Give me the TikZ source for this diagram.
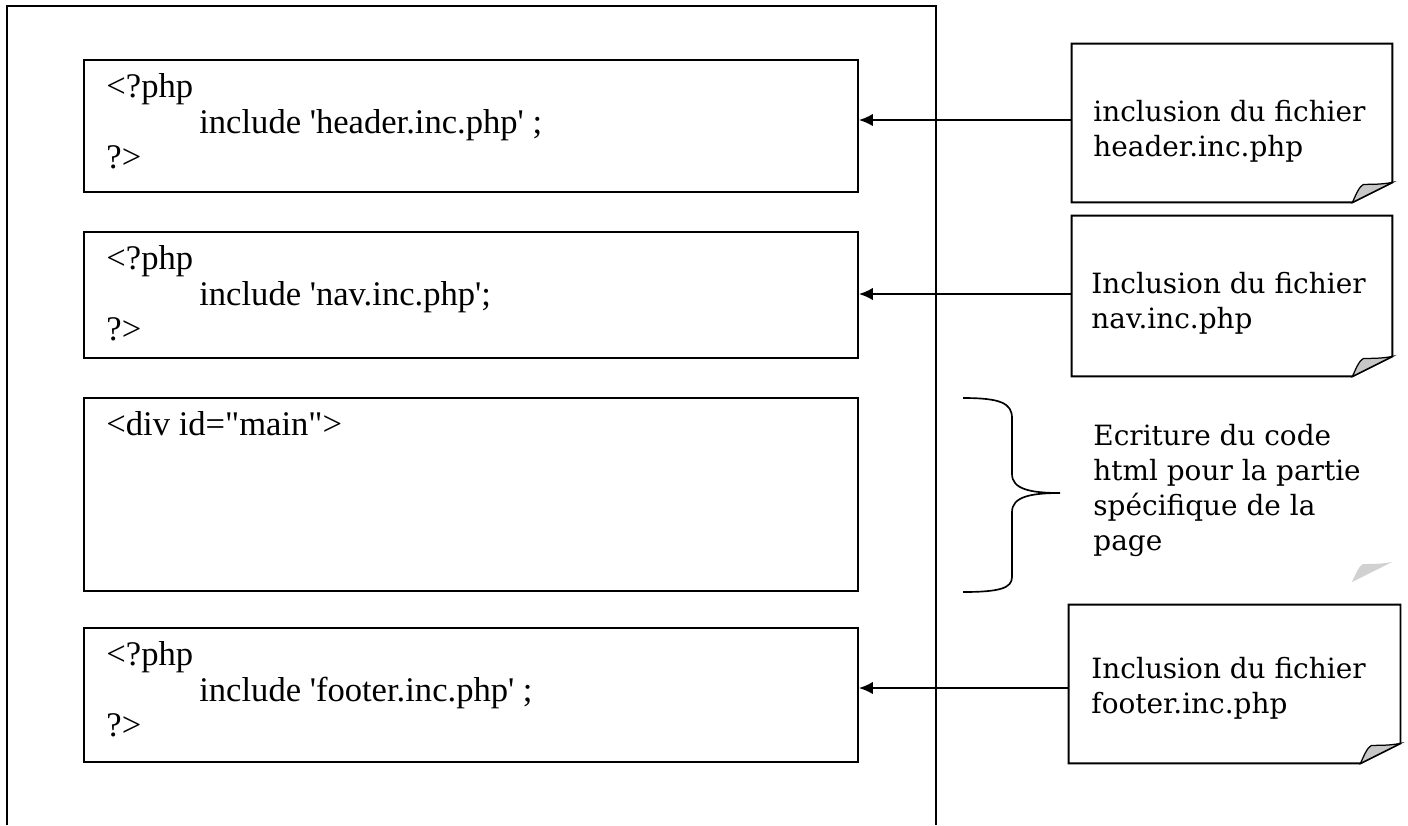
\documentclass[tikz,border=0pt]{standalone}
\usepackage{fontspec}
\setmainfont{Liberation Serif}[Ligatures=TeXOff]
\newfontfamily\notefont{DejaVu Serif}
\usetikzlibrary{arrows.meta,calc}

\tikzset{
  frame/.style={line width=1pt},
  codebox/.style={draw, line width=0.9pt, minimum width=371.5pt, inner sep=0pt},
  codetext/.style={anchor=north west, align=left, inner sep=0pt,
    font=\fontsize{16.6pt}{17pt}\selectfont},
  notebox/.style={minimum width=153.6pt, minimum height=75.8pt, inner sep=0pt},
  notetext/.style={anchor=west, align=left, inner sep=0pt,
    font=\notefont\fontsize{13.4pt}{16.6pt}\selectfont},
  noteline/.style={line width=0.9pt},
  fold/.style={fill=black!22, draw=black, line width=0.6pt},
  link/.style={line width=0.9pt, -{Latex[length=6.7pt,width=6pt]}},
  brace/.style={line width=0.8pt},
}

% folded corner of a note, bottom right corner given by #2
\newcommand\foldcorner[2][fold]{%
  \path[#1] ($#2+(-40,0)$) .. controls ($#2+(-36,-9)$) and ($#2+(-33,-16)$) ..
    ($#2+(-29,-18)$) .. controls ($#2+(-20,-18)$) and ($#2+(-10,-18)$) ..
    ($#2+(0,-20)$) -- cycle;}

% outline of a note with a folded bottom right corner
\newcommand\noteoutline[1]{%
  \draw[noteline] (#1.north west) -- (#1.north east)
    -- ($(#1.south east)+(0,-20)$) -- ($(#1.south east)+(-40,0)$)
    -- (#1.south west) -- cycle;
  \foldcorner{(#1.south east)}}

\begin{document}
\begin{tikzpicture}[x=0.48pt, y=-0.48pt]
\useasboundingbox (0,0) rectangle (1408,825);

% page frame, open at the bottom
\draw[frame] (7,825) -- (7,6) -- (936,6) -- (936,825);

% code blocks of the page
\node[codebox, minimum height=63.4pt] (b1) at (471,126) {};
\node[codebox, minimum height=60.5pt] (b2) at (471,295) {};
\node[codebox, minimum height=92.6pt] (b3) at (471,494.5) {};
\node[codebox, minimum height=64.3pt] (b4) at (471,695) {};

\node[codetext] (t1) at (106,73.4) {<?php\\\hspace*{44.6pt}include 'header.inc.php' ;\\?>};
\node[codetext] (t2) at (106,245.4) {<?php\\\hspace*{44.6pt}include 'nav.inc.php';\\?>};
\node[codetext] (t3) at (106,411.4) {<div id="main">};
\node[codetext] (t4) at (106,641.4) {<?php\\\hspace*{44.6pt}include 'footer.inc.php' ;\\?>};

% notes on the right
\node[notebox] (n1) at (1232,123) {};
\node[notebox, minimum height=76.8pt] (n2) at (1232,296) {};
\node[notebox, minimum width=158.9pt] (n4) at (1234.5,684) {};
\noteoutline{n1}
\noteoutline{n2}
\noteoutline{n4}

\node[notetext] (c1) at (1093,131) {inclusion du fichier\\header.inc.php};
\node[notetext] (c2) at (1091,303) {Inclusion du fichier\\nav.inc.php};
\node[notetext] (c4) at (1091,688) {Inclusion du fichier\\footer.inc.php};

% fold of a borderless note next to the brace
\coordinate (n3corner) at (1392,582);
\foldcorner[fill=black!18]{(n3corner)}

% brace over the main block and its comment
\draw[brace] (963,398) .. controls (1000,398) and (1012,403) .. (1012,418)
  -- (1012,474) .. controls (1012,489) and (1030,493) .. (1060,493)
  .. controls (1030,493) and (1012,497) .. (1012,512)
  -- (1012,577) .. controls (1012,588) and (1000,592) .. (963,592);
\node[notetext, font=\notefont\fontsize{13.4pt}{16.8pt}\selectfont] (c3) at (1093,490)
  {Ecriture du code\\html pour la partie\\spécifique de la\\page};

% inclusion arrows
\draw[link] (n1.west |- 0,120) -- (b1.east |- 0,120);
\draw[link] (n2.west |- 0,294) -- (b2.east |- 0,294);
\draw[link] (n4.west |- 0,688) -- (b4.east |- 0,688);
\end{tikzpicture}
\end{document}
